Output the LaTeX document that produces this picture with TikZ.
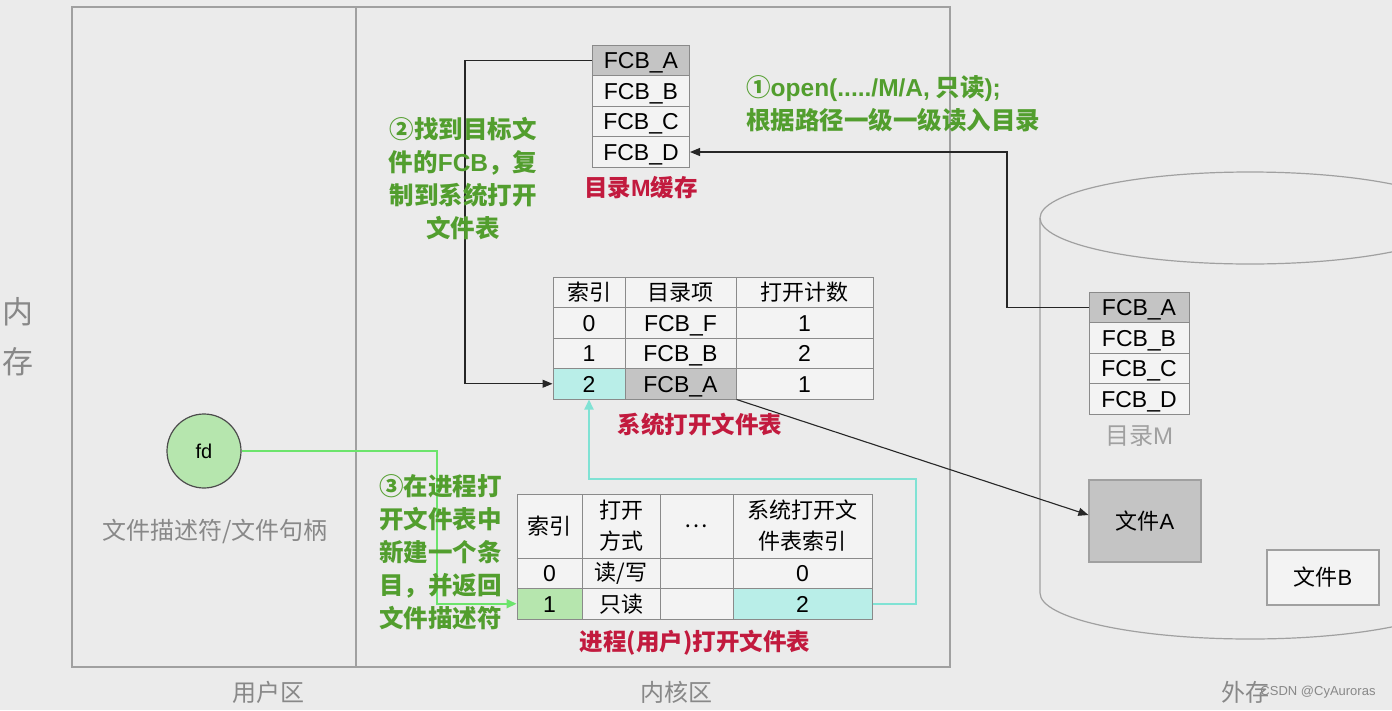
\documentclass[tikz,border=0pt]{standalone}
\usepackage{fontspec}
\setmainfont{Liberation Sans}
\newfontfamily\cjk{Noto Sans CJK SC}
\usetikzlibrary{arrows.meta}
\definecolor{bgc}{HTML}{EBEBEB}
\definecolor{framec}{HTML}{A0A0A0}
\definecolor{tblline}{HTML}{8A8A8A}
\definecolor{cellbg}{HTML}{F3F3F3}
\definecolor{grayfill}{HTML}{C4C4C4}
\definecolor{cyanfill}{HTML}{B9EEE8}
\definecolor{greenfill}{HTML}{B6E6AE}
\definecolor{txtgreen}{HTML}{529E2E}
\definecolor{txtred}{HTML}{C21A3E}
\definecolor{txtgray}{HTML}{888888}
\definecolor{arrgreen}{HTML}{6CE46C}
\definecolor{arrcyan}{HTML}{80E2D4}
\tikzset{
  cell/.style={draw=tblline, fill=cellbg, line width=1pt, inner sep=0pt, text=black,
    font=\fontsize{23}{27}\selectfont, align=center},
  lcell/.style={cell, text height=16.5pt, text depth=0pt},
  fcbcell/.style={lcell, minimum width=97pt, minimum height=30.5pt},
  greentxt/.style={text=txtgreen, font=\cjk\bfseries\fontsize{24.5}{33}\selectfont, inner sep=0pt},
  redtxt/.style={text=txtred, font=\cjk\bfseries\fontsize{23.5}{28}\selectfont, inner sep=0pt},
  graytxt/.style={text=txtgray, font=\cjk\fontsize{24}{28}\selectfont, inner sep=0pt},
  blackarr/.style={draw=black!85, line width=1.1pt, -{Triangle[length=10pt,width=8pt]}},
  greenarr/.style={draw=arrgreen, line width=2pt, -{Triangle[length=10pt,width=9pt]}},
  cyanarr/.style={draw=arrcyan, line width=2pt, -{Triangle[length=10pt,width=9pt]}},
}
\newcommand{\lat}[1]{{\fontspec{Liberation Sans}#1}}
\begin{document}
\begin{tikzpicture}[x=1pt,y=-1pt]
\useasboundingbox (0,0) rectangle (1392,710);
\fill[bgc] (0,0) rectangle (1392,710);
% frame
\draw[framec, line width=1.6pt] (72,7) rectangle (950,667);
\draw[framec, line width=1.6pt] (356,7) -- (356,667);
% cylinder
\begin{scope}
\clip (0,0) rectangle (1392,710);
\draw[framec, line width=1.2pt] (1250,218) ellipse [x radius=210pt, y radius=46pt];
\draw[framec, line width=1.2pt] (1040,218) -- (1040,593) arc[start angle=180, end angle=360, x radius=210pt, y radius=46pt];
\end{scope}
% top FCB stack
\node[fcbcell, fill=grayfill] (tA) at (641,60.5) {FCB\_A};
\node[fcbcell] (tB) at (641,91) {FCB\_B};
\node[fcbcell] (tC) at (641,121.5) {FCB\_C};
\node[fcbcell] (tD) at (641,152) {FCB\_D};
\node[redtxt] (lblcache) at (641,188) {目录\lat{\bfseries M}缓存};
% disk FCB stack
\node[fcbcell, minimum width=100pt, fill=grayfill] (cA) at (1139,307.5) {FCB\_A};
\node[fcbcell, minimum width=100pt] (cB) at (1139,338) {FCB\_B};
\node[fcbcell, minimum width=100pt] (cC) at (1139,368.5) {FCB\_C};
\node[fcbcell, minimum width=100pt] (cD) at (1139,399) {FCB\_D};
\node[graytxt, text=txtgray!80] (lblM) at (1139,436) {目录\lat{M}};
% files
\node[draw=framec, line width=1.2pt, fill=grayfill, minimum width=112pt, minimum height=82pt, font=\cjk\fontsize{22}{26}\selectfont] (fileA) at (1145,521) {文件\lat{A}};
\node[draw=framec, line width=1.2pt, fill=cellbg, minimum width=112pt, minimum height=55pt, font=\cjk\fontsize{22}{26}\selectfont] (fileB) at (1323,577.5) {文件\lat{B}};
% system open file table
\node[cell, minimum width=72pt, minimum height=30.5pt, font=\cjk\fontsize{22}{27}\selectfont] (s0i) at (589,292.25) {索引};
\node[cell, minimum width=111pt, minimum height=30.5pt, font=\cjk\fontsize{22}{27}\selectfont] (s0n) at (680.5,292.25) {目录项};
\node[cell, minimum width=137pt, minimum height=30.5pt, font=\cjk\fontsize{22}{27}\selectfont] (s0c) at (804.5,292.25) {打开计数};
\node[lcell, minimum width=72pt, minimum height=30.5pt] (s1i) at (589,322.75) {0};
\node[lcell, minimum width=111pt, minimum height=30.5pt] (s1n) at (680.5,322.75) {FCB\_F};
\node[lcell, minimum width=137pt, minimum height=30.5pt] (s1c) at (804.5,322.75) {1};
\node[lcell, minimum width=72pt, minimum height=30.5pt] (s2i) at (589,353.25) {1};
\node[lcell, minimum width=111pt, minimum height=30.5pt] (s2n) at (680.5,353.25) {FCB\_B};
\node[lcell, minimum width=137pt, minimum height=30.5pt] (s2c) at (804.5,353.25) {2};
\node[lcell, minimum width=72pt, minimum height=30.5pt, fill=cyanfill] (s3i) at (589,383.75) {2};
\node[lcell, minimum width=111pt, minimum height=30.5pt, fill=grayfill] (s3n) at (680.5,383.75) {FCB\_A};
\node[lcell, minimum width=137pt, minimum height=30.5pt] (s3c) at (804.5,383.75) {1};
\node[redtxt] (lblsys) at (700,425) {系统打开文件表};
% process open file table
\node[cell, minimum width=65pt, minimum height=64pt, font=\cjk\fontsize{22}{31}\selectfont] (p0i) at (549.5,526) {索引};
\node[cell, minimum width=78pt, minimum height=64pt, font=\cjk\fontsize{22}{31}\selectfont] (p0m) at (621,526) {打开\\方式};
\node[cell, minimum width=73pt, minimum height=64pt, font=\cjk\fontsize{22}{31}\selectfont] (p0d) at (696.5,526) {…};
\node[cell, minimum width=139pt, minimum height=64pt, font=\cjk\fontsize{22}{31}\selectfont] (p0s) at (802.5,526) {系统打开文\\件表索引};
\node[lcell, minimum width=65pt, minimum height=30.5pt] (p1i) at (549.5,573.25) {0};
\node[cell, minimum width=78pt, minimum height=30.5pt, font=\cjk\fontsize{22}{27}\selectfont] (p1m) at (621,573.25) {读/写};
\node[cell, minimum width=73pt, minimum height=30.5pt] (p1d) at (696.5,573.25) {};
\node[lcell, minimum width=139pt, minimum height=30.5pt] (p1s) at (802.5,573.25) {0};
\node[lcell, minimum width=65pt, minimum height=30.5pt, fill=greenfill] (p2i) at (549.5,603.75) {1};
\node[cell, minimum width=78pt, minimum height=30.5pt, font=\cjk\fontsize{22}{27}\selectfont] (p2m) at (621,603.75) {只读};
\node[cell, minimum width=73pt, minimum height=30.5pt] (p2d) at (696.5,603.75) {};
\node[lcell, minimum width=139pt, minimum height=30.5pt, fill=cyanfill] (p2s) at (802.5,603.75) {2};
\node[redtxt] (lblproc) at (695,643) {进程(用户)打开文件表};
% fd
\node[circle, draw=black!70, line width=1.2pt, fill=greenfill, minimum size=74pt, inner sep=0pt, font=\fontsize{20}{24}\selectfont] (fd) at (204,451) {fd};
\node[graytxt] (lblfd) at (215,531) {文件描述符/文件句柄};
% side / bottom labels
\node[graytxt, font=\cjk\fontsize{31}{50}\selectfont, align=center] (lblmem) at (18,337) {内\\存};
\node[graytxt] (lbluser) at (268,692) {用户区};
\node[graytxt] (lblkernel) at (676,692) {内核区};
\node[graytxt] (lblext) at (1245,692) {外存};
\node[text=txtgray, font=\fontsize{13}{15}\selectfont, inner sep=0pt] (wm) at (1318,692) {CSDN @CyAuroras};
% connectors
\coordinate (k1a) at (1007,307.5);
\coordinate (k1b) at (1007,152);
\draw[blackarr] (cA.west) -- (k1a) -- (k1b) -- (tD.east);
\coordinate (k2a) at (465,60.5);
\coordinate (k2b) at (465,383.75);
\draw[blackarr] (tA.west) -- (k2a) -- (k2b) -- (s3i.west);
\draw[blackarr] (s3n.south east) -- ([yshift=6pt]fileA.west);
\coordinate (k3a) at (437,451);
\coordinate (k3b) at (437,603.75);
\draw[greenarr] (fd.east) -- (k3a) -- (k3b) -- (p2i.west);
\coordinate (k4a) at (916,603.75);
\coordinate (k4b) at (916,479);
\coordinate (k4c) at (589,479);
\draw[cyanarr] (p2s.east) -- (k4a) -- (k4b) -- (k4c) -- (s3i.south);
% green annotations
\node[greentxt, align=left, anchor=west] (ann1) at (746,104) {①\lat{open(...../M/A,} 只读\lat{);}\\根据路径一级一级读入目录};
\node[greentxt, align=center] (ann2) at (463,179) {②找到目标文\\件的\lat{FCB}，复\\制到系统打开\\文件表};
\node[greentxt, align=left, anchor=west] (ann3) at (379,552) {③在进程打\\开文件表中\\新建一个条\\目，并返回\\文件描述符};
\end{tikzpicture}
\end{document}
